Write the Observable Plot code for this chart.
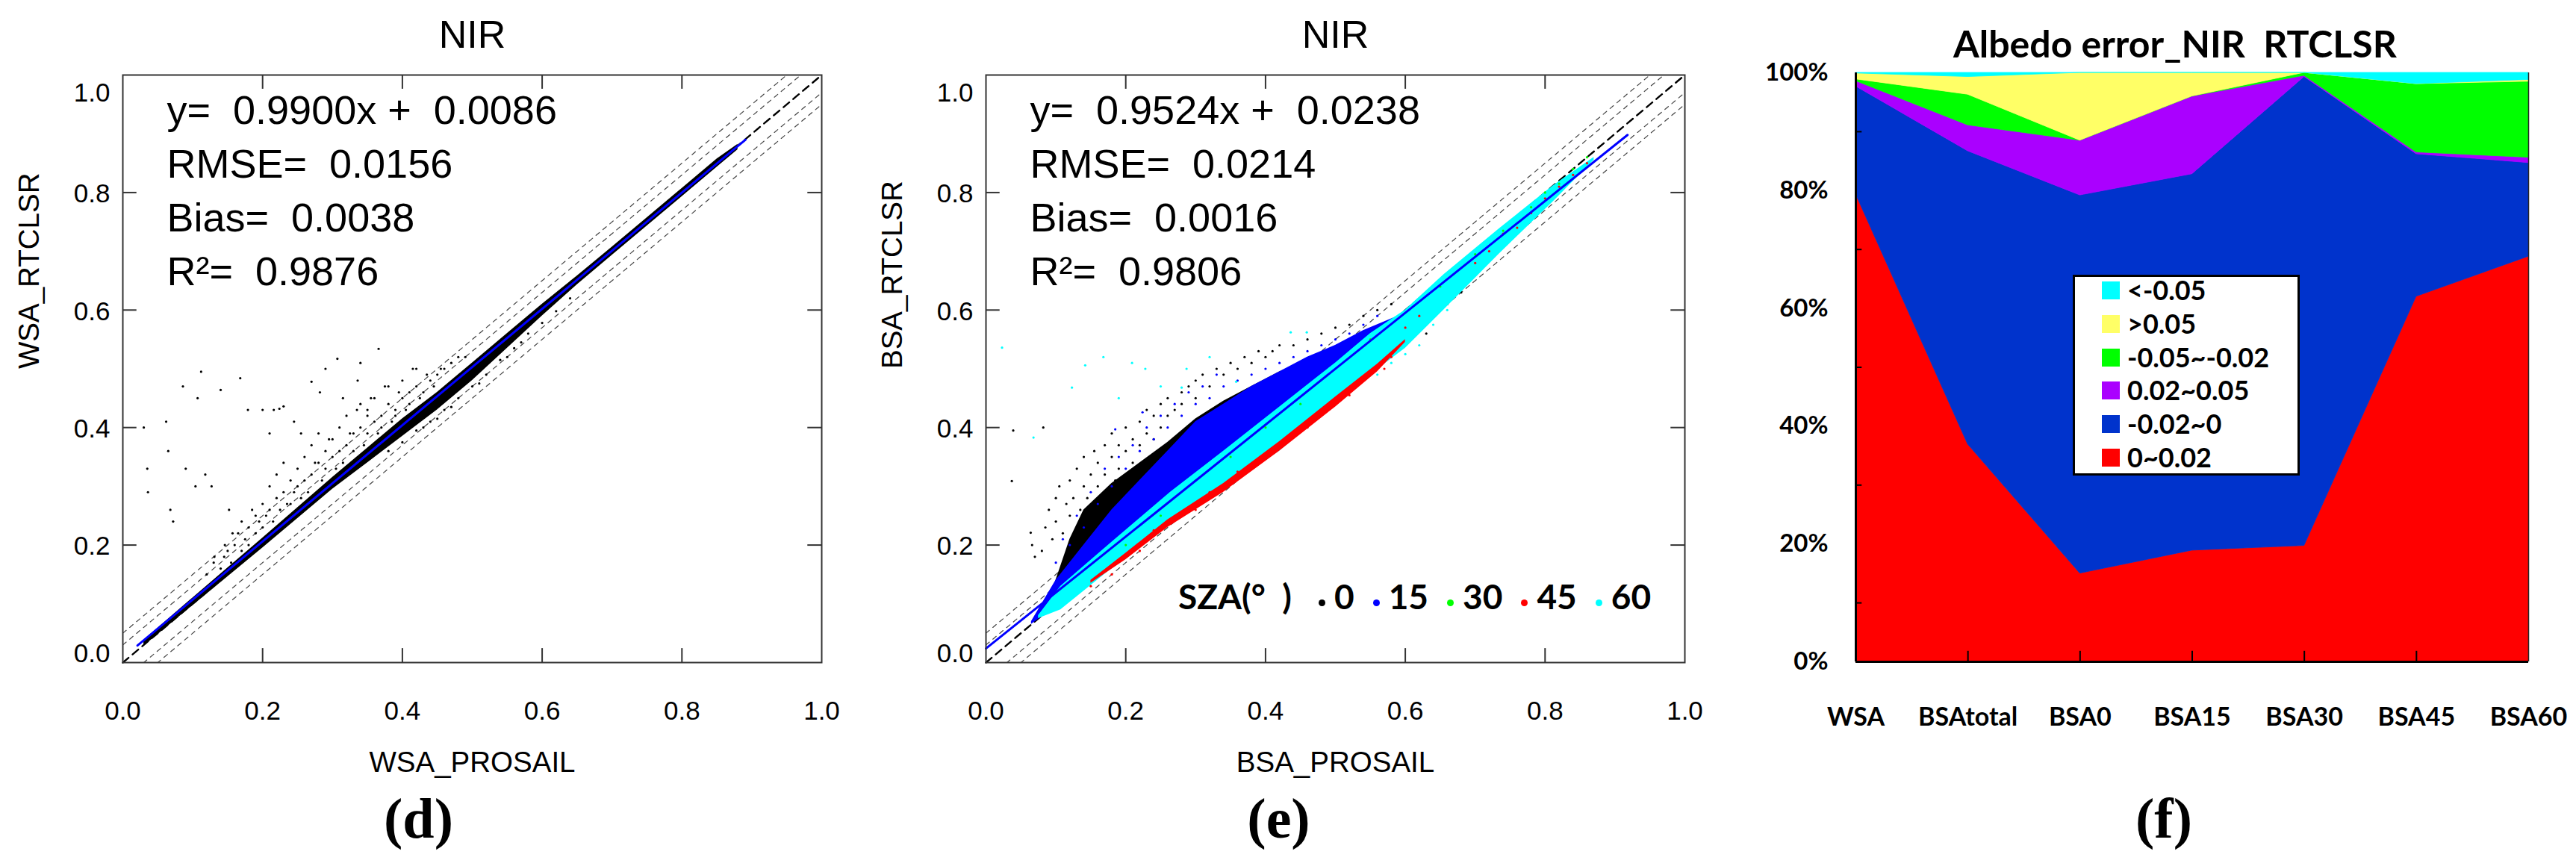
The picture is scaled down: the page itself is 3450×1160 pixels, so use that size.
<!DOCTYPE html>
<html><head><meta charset="utf-8">
<script src="https://cdn.jsdelivr.net/npm/d3@7"></script>
<script src="https://cdn.jsdelivr.net/npm/@observablehq/plot@0.6"></script>
<style>
html,body{margin:0;padding:0;background:#fff;}
#wrap{position:relative;width:3450px;height:1160px;overflow:hidden;background:#fff;}
#wrap svg{position:absolute;top:0;overflow:visible;background:transparent;}
</style></head><body><div id="wrap"></div>
<script>
// ---------- shared axis data ----------
const axisTicks = [0, 0.2, 0.4, 0.6, 0.8, 1.0];
const refOffsets = [-0.05, -0.03, 0.03, 0.05];

// ---------- panel (d) WSA ----------
const dTitle = "NIR";
const dXLabel = "WSA_PROSAIL";
const dYLabel = "WSA_RTCLSR";
const dStats = ["y=\u00a0\u00a00.9900x\u00a0+\u00a0\u00a00.0086", "RMSE=\u00a0\u00a00.0156", "Bias=\u00a0\u00a00.0038", "R\u00b2=\u00a0\u00a00.9876"];
const dFitX = [0.021, 0.891];
const dFitY = [0.029, 0.890];
const dBandX  = [0.03, 0.10, 0.20, 0.30, 0.35, 0.40, 0.45, 0.50, 0.55, 0.60, 0.65, 0.70, 0.75, 0.80, 0.85, 0.88];
const dBandLo = [0.028, 0.097, 0.195, 0.295, 0.34, 0.385, 0.43, 0.48, 0.535, 0.59, 0.643, 0.693, 0.743, 0.793, 0.843, 0.873];
const dBandHi = [0.038, 0.11, 0.212, 0.315, 0.365, 0.415, 0.46, 0.51, 0.56, 0.61, 0.658, 0.707, 0.757, 0.807, 0.857, 0.882];
const dPoints = [
[0.03,0.40],[0.035,0.33],[0.036,0.29],[0.062,0.41],[0.065,0.36],[0.068,0.26],[0.072,0.24],[0.086,0.47],[0.09,0.33],[0.107,0.45],
[0.112,0.495],[0.104,0.30],[0.118,0.32],[0.127,0.30],[0.131,0.18],[0.14,0.464],[0.146,0.20],[0.152,0.26],[0.157,0.22],[0.168,0.484],
[0.179,0.43],[0.2,0.43],[0.216,0.43],[0.224,0.432],[0.23,0.436],[0.255,0.39],[0.27,0.478],[0.282,0.46],[0.307,0.517],[0.315,0.45],
[0.336,0.48],[0.34,0.51],[0.366,0.534],[0.35,0.43],[0.29,0.50],[0.21,0.39],[0.245,0.41],
[0.12,0.15],[0.13,0.17],[0.14,0.16],[0.145,0.18],[0.15,0.19],[0.155,0.17],[0.16,0.2],[0.165,0.22],[0.17,0.19],[0.17,0.24],
[0.175,0.21],[0.18,0.2],[0.18,0.23],[0.185,0.26],[0.19,0.22],[0.19,0.25],[0.195,0.24],[0.2,0.27],[0.2,0.23],[0.205,0.25],
[0.21,0.3],[0.21,0.26],[0.215,0.24],[0.22,0.28],[0.22,0.32],[0.225,0.26],[0.23,0.29],[0.23,0.34],[0.235,0.27],[0.24,0.31],
[0.24,0.27],[0.245,0.29],[0.25,0.33],[0.25,0.3],[0.255,0.28],[0.26,0.35],[0.26,0.31],[0.265,0.29],[0.27,0.32],[0.27,0.37],
[0.275,0.34],[0.28,0.34],[0.28,0.39],[0.285,0.31],[0.29,0.36],[0.29,0.33],[0.295,0.38],[0.3,0.38],[0.3,0.35],[0.305,0.33],
[0.31,0.4],[0.31,0.36],[0.315,0.34],[0.32,0.37],[0.32,0.42],[0.325,0.39],[0.33,0.39],[0.33,0.36],[0.335,0.43],[0.34,0.4],
[0.34,0.44],[0.345,0.37],[0.35,0.39],[0.35,0.42],[0.355,0.45],[0.36,0.41],[0.36,0.45],[0.365,0.39],[0.37,0.42],[0.37,0.4],
[0.375,0.47],[0.38,0.44],[0.38,0.47],[0.385,0.41],[0.39,0.43],[0.39,0.42],[0.395,0.46],[0.4,0.45],[0.4,0.48],[0.405,0.43],
[0.41,0.44],[0.41,0.46],[0.415,0.5],[0.42,0.47],[0.42,0.5],[0.425,0.45],[0.43,0.46],[0.435,0.49],[0.44,0.48],[0.445,0.47],
[0.45,0.49],[0.455,0.5],[0.46,0.5],[0.47,0.51],[0.48,0.52],[0.49,0.52],
[0.38,0.36],[0.4,0.375],[0.42,0.395],[0.44,0.41],[0.46,0.43],[0.48,0.45],[0.5,0.47],[0.52,0.49],[0.54,0.515],[0.56,0.535],
[0.58,0.56],[0.6,0.578],[0.62,0.598],[0.64,0.62],[0.47,0.435],[0.43,0.4],[0.51,0.475],[0.55,0.52],[0.57,0.545],[0.45,0.415]
];

// ---------- panel (e) BSA ----------
const eTitle = "NIR";
const eXLabel = "BSA_PROSAIL";
const eYLabel = "BSA_RTCLSR";
const eStats = ["y=\u00a0\u00a00.9524x\u00a0+\u00a0\u00a00.0238", "RMSE=\u00a0\u00a00.0214", "Bias=\u00a0\u00a00.0016", "R\u00b2=\u00a0\u00a00.9806"];
const eFitX = [0.0, 0.918];
const eFitY = [0.024, 0.898];
const szaLabels = ["0", "15", "30", "45", "60"];
const szaColors = ["#000000", "#0000ff", "#00ff00", "#ff0000", "#00ffff"];
// dense cores (SZA 0 black, SZA 15 blue, SZA 45 red, SZA 60 cyan)
const eBlackX  = [0.085, 0.10, 0.12, 0.14, 0.18, 0.22, 0.26, 0.30, 0.34, 0.38, 0.42, 0.46, 0.50, 0.54];
const eBlackLo = [0.085, 0.10, 0.12, 0.14, 0.18, 0.22, 0.26, 0.30, 0.34, 0.38, 0.42, 0.46, 0.50, 0.545];
const eBlackHi = [0.09, 0.14, 0.21, 0.26, 0.305, 0.34, 0.375, 0.415, 0.445, 0.47, 0.495, 0.515, 0.535, 0.55];
const eBlueX  = [0.065, 0.10, 0.14, 0.18, 0.22, 0.26, 0.30, 0.34, 0.38, 0.42, 0.46, 0.50, 0.54, 0.60];
const eBlueLo = [0.065, 0.095, 0.135, 0.175, 0.215, 0.255, 0.295, 0.335, 0.375, 0.415, 0.455, 0.495, 0.535, 0.59];
const eBlueHi = [0.07, 0.14, 0.20, 0.26, 0.31, 0.36, 0.41, 0.44, 0.47, 0.495, 0.52, 0.54, 0.565, 0.595];
const eCyanX  = [0.075, 0.107, 0.18, 0.264, 0.34, 0.42, 0.50, 0.55, 0.60, 0.655, 0.734, 0.812, 0.87];
const eCyanLo = [0.075, 0.09, 0.16, 0.235, 0.295, 0.36, 0.44, 0.49, 0.535, 0.60, 0.695, 0.785, 0.855];
const eCyanHi = [0.08, 0.13, 0.205, 0.29, 0.36, 0.435, 0.51, 0.56, 0.60, 0.66, 0.738, 0.812, 0.86];
const eRedX  = [0.15, 0.20, 0.26, 0.34, 0.42, 0.50, 0.56, 0.60];
const eRedLo = [0.135, 0.175, 0.23, 0.29, 0.36, 0.435, 0.495, 0.545];
const eRedHi = [0.14, 0.186, 0.243, 0.305, 0.376, 0.452, 0.508, 0.55];
const eBlackPts = [
[0.039,0.395],[0.037,0.309],[0.082,0.40],[0.064,0.221],[0.066,0.2],[0.07,0.18],[0.08,0.19],[0.085,0.23],[0.09,0.26],[0.095,0.21],
[0.1,0.28],[0.1,0.24],[0.105,0.3],[0.11,0.22],[0.115,0.27],[0.12,0.25],[0.12,0.31],[0.125,0.28],[0.13,0.33],[0.13,0.23],
[0.135,0.26],[0.14,0.3],[0.14,0.35],[0.145,0.28],[0.15,0.32],[0.15,0.25],[0.155,0.36],[0.16,0.3],[0.16,0.34],[0.165,0.27],
[0.17,0.37],[0.17,0.32],[0.175,0.29],[0.18,0.39],[0.18,0.35],[0.185,0.31],[0.19,0.37],[0.19,0.33],[0.2,0.4],[0.2,0.36],
[0.21,0.38],[0.21,0.34],[0.22,0.41],[0.22,0.37],[0.23,0.39],[0.23,0.43],[0.24,0.42],[0.24,0.38],[0.25,0.44],[0.25,0.4],
[0.26,0.45],[0.26,0.42],[0.27,0.43],[0.28,0.46],[0.28,0.44],[0.29,0.47],[0.3,0.45],[0.3,0.48],[0.31,0.49],[0.32,0.47],
[0.33,0.5],[0.34,0.49],[0.35,0.51],[0.36,0.5],[0.37,0.52],[0.38,0.51],[0.39,0.53],[0.4,0.52],[0.41,0.53],[0.42,0.54],
[0.44,0.54],[0.46,0.55],[0.48,0.56],[0.5,0.57],[0.52,0.575],[0.54,0.59],[0.56,0.6],[0.58,0.61],
[0.6,0.55],[0.62,0.57],[0.64,0.59],[0.66,0.61],[0.63,0.56],[0.68,0.63],[0.76,0.745],[0.8,0.785],[0.84,0.83]
];
const eBluePts = [
[0.185,0.397],[0.224,0.426],[0.1,0.17],[0.12,0.2],[0.14,0.23],[0.16,0.27],[0.18,0.3],[0.2,0.33],[0.22,0.36],[0.24,0.38],
[0.26,0.4],[0.28,0.42],[0.3,0.44],[0.32,0.45],[0.34,0.47],[0.36,0.48],[0.38,0.49],[0.4,0.5],[0.42,0.51],[0.44,0.52],
[0.46,0.53],[0.48,0.54],[0.5,0.55],[0.52,0.56],[0.54,0.575],[0.56,0.59],[0.15,0.29],[0.17,0.33],[0.19,0.35],[0.21,0.37],
[0.23,0.4],[0.25,0.42],[0.27,0.44],[0.29,0.46],[0.31,0.47],[0.33,0.49],[0.13,0.25],[0.11,0.21]
];
const eRedPts = [
[0.76,0.74],[0.78,0.765],[0.8,0.79],[0.82,0.81],[0.84,0.83],[0.86,0.85],[0.7,0.68],[0.72,0.7],[0.74,0.73],[0.6,0.57],
[0.62,0.59],[0.15,0.13],[0.18,0.15],[0.22,0.19],[0.3,0.26],[0.38,0.33],[0.46,0.4],[0.52,0.455],[0.57,0.5],
[0.24,0.225],[0.28,0.255],[0.32,0.29],[0.36,0.325],[0.4,0.355],[0.44,0.39],[0.48,0.425],[0.54,0.48],[0.58,0.52]
];
const eGreenPts = [
[0.7,0.695],[0.74,0.735],[0.78,0.775],[0.8,0.8],[0.82,0.815],[0.84,0.84],[0.86,0.86],[0.3,0.31],[0.35,0.35],[0.4,0.4],
[0.45,0.44],[0.55,0.55],[0.65,0.64],[0.2,0.2],[0.25,0.25]
];
const eCyanPts = [
[0.023,0.536],[0.068,0.383],[0.123,0.468],[0.142,0.506],[0.168,0.52],[0.209,0.51],[0.228,0.50],[0.28,0.468],[0.287,0.50],[0.358,0.478],
[0.436,0.562],[0.459,0.562],[0.25,0.47],[0.19,0.45],[0.32,0.52],[0.6,0.525],[0.62,0.54],[0.58,0.51],[0.64,0.575],[0.56,0.49],
[0.66,0.6],[0.5,0.46],[0.54,0.5]
];

// ---------- panel (f) ----------
const fTitle = "Albedo error_NIR\u00a0\u00a0RTCLSR";
const fCategories = ["WSA", "BSAtotal", "BSA0", "BSA15", "BSA30", "BSA45", "BSA60"];
const fBands  = ["0~0.02", "-0.02~0", "0.02~0.05", "-0.05~-0.02", ">0.05", "<-0.05"];
const fColors = ["#ff0000", "#0033cc", "#aa00ff", "#00ff00", "#ffff66", "#00ffff"];
const fRed    = [79.4, 36.9, 15.0, 18.9, 19.7, 62.0, 68.8];
const fBlue   = [18.3, 49.8, 64.2, 63.9, 79.6, 24.2, 15.9];
const fPurple = [0.9, 4.4, 9.3, 13.2, 0.2, 0.3, 0.9];
const fGreen  = [0.3, 5.2, 0.0, 0.0, 0.5, 11.6, 12.9];
const fYellow = [1.0, 3.0, 11.5, 4.0, 0.0, 0.0, 0.3];
const fCyan   = [0.1, 0.7, 0.0, 0.0, 0.0, 1.9, 1.2];
const fYTicks = [0, 20, 40, 60, 80, 100];
const fMinorTicks = [10, 30, 50, 70, 90];

// ---------- build ----------
const wrap = document.getElementById("wrap");
const fmt = d3.format(".1f");
const SANS = "Liberation Sans, Arial, sans-serif";

function toRows(xs, lo, hi) { return xs.map((x, i) => ({x, lo: lo[i], hi: hi[i]})); }

function scatterPanel({left, width, marginRight, title, xLabel, yLabel, stats, tag, tagDx, layers, fitX, fitY}) {
  const inner = [axisTicks[1], axisTicks[2], axisTicks[3], axisTicks[4]];
  const fit = fitX.map((x, i) => [x, fitY[i]]);
  const svg = Plot.plot({
    width, height: 1160,
    marginLeft: 164, marginRight, marginTop: 100, marginBottom: 273,
    x: {domain: [0, 1], axis: null},
    y: {domain: [0, 1], axis: null},
    marks: [
      ...refOffsets.map(o => Plot.line([[0, o], [1, 1 + o]], {stroke: "#444", strokeWidth: 1.2, strokeDasharray: "6,6", clip: true})),
      Plot.line([[0, 0], [1, 1]], {stroke: "#000", strokeWidth: 2.4, strokeDasharray: "10,7"}),
      ...layers,
      Plot.line(fit, {stroke: "#0000ff", strokeWidth: 3}),
      Plot.frame({stroke: "#333", strokeWidth: 2}),
      Plot.ruleY(inner, {x1: 0, x2: 0.02, stroke: "#333", strokeWidth: 2}),
      Plot.ruleY(inner, {x1: 0.98, x2: 1, stroke: "#333", strokeWidth: 2}),
      Plot.ruleX(inner, {y1: 0, y2: 0.024, stroke: "#333", strokeWidth: 2}),
      Plot.ruleX(inner, {y1: 0.976, y2: 1, stroke: "#333", strokeWidth: 2}),
      Plot.text(axisTicks, {x: d => d, y: 0, text: fmt, dy: 52, lineAnchor: "top", fontSize: 35, fontFamily: SANS, fill: "#000"}),
      Plot.text(inner, {x: 0, y: d => d, text: fmt, textAnchor: "end", dx: -17, dy: 2, lineAnchor: "middle", fontSize: 35, fontFamily: SANS}),
      Plot.text([1], {x: 0, y: d => d, text: fmt, textAnchor: "end", dx: -17, dy: 24, lineAnchor: "middle", fontSize: 35, fontFamily: SANS}),
      Plot.text([0], {x: 0, y: d => d, text: fmt, textAnchor: "end", dx: -17, dy: -12, lineAnchor: "middle", fontSize: 35, fontFamily: SANS}),
      ...stats.map((t, i) => Plot.text([t], {frameAnchor: "top-left", dx: 59, dy: 26.7 + i * 72.3, lineAnchor: "top", fontSize: 54, fontFamily: SANS})),
      Plot.text([title], {frameAnchor: "top", dy: -73, lineAnchor: "top", fontSize: 52, fontFamily: SANS}),
      Plot.text([xLabel], {frameAnchor: "bottom", dy: 119, lineAnchor: "top", fontSize: 38.5, fontFamily: SANS}),
      Plot.text([yLabel], {frameAnchor: "left", dx: -125, rotate: -90, lineAnchor: "middle", fontSize: 38.5, fontFamily: SANS}),
      Plot.text([tag], {frameAnchor: "bottom", dx: tagDx, dy: 181, lineAnchor: "top", fontSize: 76, fontFamily: "Liberation Serif, serif", fontWeight: "bold"})
    ]
  });
  svg.style.left = left + "px";
  wrap.appendChild(svg);
}

const dot = (data, color, r = 1.6) => Plot.dot(data, {x: d => d[0], y: d => d[1], r, fill: color, stroke: null});

scatterPanel({
  left: 0, width: 1156, marginRight: 56,
  title: dTitle, xLabel: dXLabel, yLabel: dYLabel, stats: dStats, tag: "(d)", tagDx: -72,
  fitX: dFitX, fitY: dFitY,
  layers: [
    Plot.areaY(toRows(dBandX, dBandLo, dBandHi), {x: "x", y1: "lo", y2: "hi", fill: "#000"}),
    dot(dPoints, "#000", 1.6)
  ]
});

scatterPanel({
  left: 1156, width: 1170, marginRight: 70,
  title: eTitle, xLabel: eXLabel, yLabel: eYLabel, stats: eStats, tag: "(e)", tagDx: -76,
  fitX: eFitX, fitY: eFitY,
  layers: [
    Plot.areaY(toRows(eBlackX, eBlackLo, eBlackHi), {x: "x", y1: "lo", y2: "hi", fill: szaColors[0]}),
    dot(eBlackPts, szaColors[0]),
    Plot.areaY(toRows(eBlueX, eBlueLo, eBlueHi), {x: "x", y1: "lo", y2: "hi", fill: szaColors[1]}),
    dot(eBluePts, szaColors[1]),
    Plot.areaY(toRows(eCyanX, eCyanLo, eCyanHi), {x: "x", y1: "lo", y2: "hi", fill: szaColors[4]}),
    dot(eCyanPts, szaColors[4]),
    Plot.areaY(toRows(eRedX, eRedLo, eRedHi), {x: "x", y1: "lo", y2: "hi", fill: szaColors[3]}),
    dot(eRedPts, szaColors[3]),
    dot(eGreenPts, szaColors[2])
  ]
});

// SZA legend inside panel (e)
const sza = document.createElement("div");
sza.style.cssText = "position:absolute;left:1578px;top:776px;font:bold 46px Lato, sans-serif;line-height:46px;white-space:pre;color:#000;";
sza.innerHTML = `<span style="display:inline-block;width:161px">SZA(\u00b0  )</span>` +
  szaLabels.map((l, i) => `<span style="display:inline-block;width:9px;height:9px;border-radius:50%;background:${szaColors[i]};margin-left:${i ? 25 : 27}px;margin-right:12px;position:relative;top:-4px"></span>${l}`).join("");
wrap.appendChild(sza);

// panel (f)
const fSeries = [fRed, fBlue, fPurple, fGreen, fYellow, fCyan];
const fRows = [];
fBands.forEach((b, j) => fCategories.forEach((c, i) => fRows.push({i, cat: c, band: b, pct: fSeries[j][i]})));
const LATO = "Lato, sans-serif";
const fsvg = Plot.plot({
  width: 1100, height: 1160,
  marginLeft: 135, marginRight: 64, marginTop: 97, marginBottom: 274,
  x: {domain: [0, fCategories.length - 1], axis: null},
  y: {domain: [0, 100], axis: null},
  color: {domain: fBands, range: fColors},
  marks: [
    Plot.areaY(fRows, {x: "i", y: "pct", z: "band", fill: "band", stroke: "band", strokeWidth: 0.8, order: fBands, curve: "linear"}),
    Plot.ruleX([fCategories.length - 1], {stroke: "#222", strokeWidth: 1.5}),
    Plot.ruleX(d3.range(1, fCategories.length - 1), {y1: 0, y2: 1.8, stroke: "#000", strokeWidth: 2}),
    Plot.ruleY(fMinorTicks, {x1: 0, x2: 0.055, stroke: "#000", strokeWidth: 2}),
    Plot.ruleY([0], {stroke: "#000", strokeWidth: 3}),
    Plot.ruleX([0], {stroke: "#000", strokeWidth: 3}),
    Plot.text(fYTicks, {x: 0, y: d => d, text: d => d + "%", textAnchor: "end", dx: -37, lineAnchor: "middle", fontSize: 33, fontFamily: LATO, fontWeight: "bold"}),
    Plot.text(fCategories, {x: (d, i) => i, y: 0, dy: 61, lineAnchor: "top", fontSize: 34, fontFamily: LATO, fontWeight: "bold"}),
    Plot.text([fTitle], {frameAnchor: "top", dx: -23, dy: -56.5, lineAnchor: "top", fontSize: 50, fontFamily: LATO, fontWeight: "bold"}),
    Plot.text(["(f)"], {frameAnchor: "bottom", dx: -38, dy: 182, lineAnchor: "top", fontSize: 76, fontFamily: "Liberation Serif, serif", fontWeight: "bold"})
  ]
});
fsvg.style.left = "2350px";
wrap.appendChild(fsvg);

// legend for (f)
const leg = document.createElement("div");
leg.style.cssText = "position:absolute;left:2776px;top:368px;width:304px;height:269px;box-sizing:border-box;border:3px solid #000;background:#fff;";
const legOrder = fBands.map((b, j) => j).reverse();
legOrder.forEach((j, k) => {
  const c = 18 + 44.8 * k;
  const sw = document.createElement("div");
  sw.style.cssText = `position:absolute;left:36px;top:${c - 12}px;width:24px;height:24px;background:${fColors[j]};`;
  const tx = document.createElement("div");
  tx.style.cssText = `position:absolute;left:70px;top:${c - 19}px;font:bold 36px Lato, sans-serif;line-height:36px;white-space:pre;color:#000;`;
  tx.textContent = fBands[j];
  leg.appendChild(sw); leg.appendChild(tx);
});
wrap.appendChild(leg);
</script></body></html>
